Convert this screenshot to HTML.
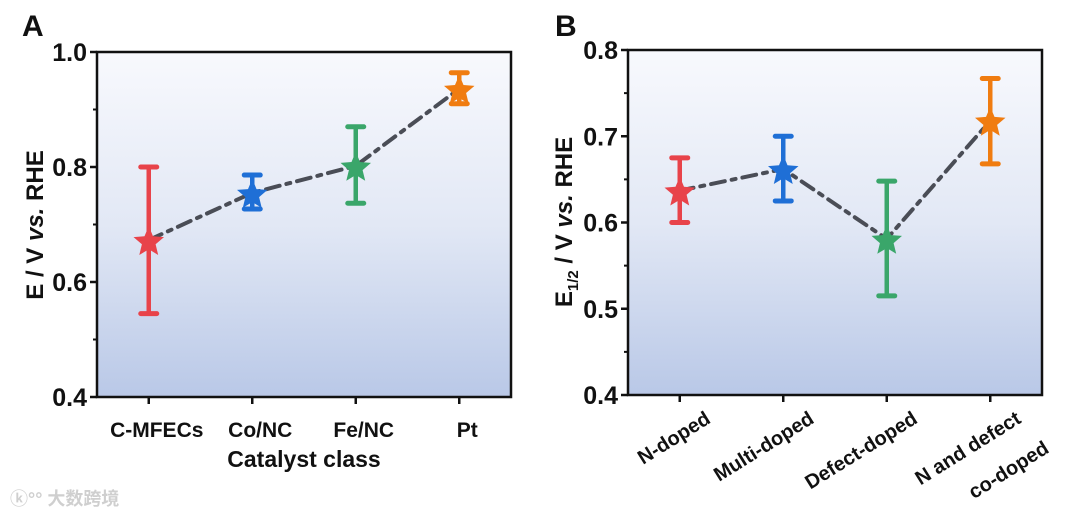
<!DOCTYPE html>
<html><head><meta charset="utf-8"><style>
html,body{margin:0;padding:0;background:#fff;}
svg{display:block;font-family:"Liberation Sans",Arial,sans-serif;font-weight:bold;}
</style></head><body>
<svg id="root" width="1080" height="518" viewBox="0 0 1080 518" xmlns="http://www.w3.org/2000/svg">
<defs>
<linearGradient id="bg" x1="0" y1="0" x2="0" y2="1">
<stop offset="0" stop-color="#f8f9fd"/><stop offset="0.5" stop-color="#e2e8f5"/><stop offset="1" stop-color="#b9c8e7"/>
</linearGradient>
</defs>
<g id="wm"><text x="10" y="505" font-size="18" fill="#cfcfcf" font-family="'Liberation Sans','Noto Sans CJK SC',sans-serif">ⓚ°° 大数跨境</text></g>
</svg>
<script>
const catsA = ["C-MFECs","Co/NC","Fe/NC","Pt"];
const valsA = [0.673,0.755,0.802,0.936];
const hiA = [0.800,0.786,0.870,0.964];
const loA = [0.545,0.727,0.737,0.910];
const ticksA = [0.4,0.6,0.8,1.0];
const catsB = ["N-doped","Multi-doped","Defect-doped","N and defect|co-doped"];
const valsB = [0.637,0.662,0.581,0.718];
const hiB = [0.675,0.700,0.648,0.767];
const loB = [0.600,0.625,0.515,0.668];
const ticksB = [0.4,0.5,0.6,0.7,0.8];
const colors = ["#e8434a","#1f6fd6","#3aa66a","#f07c10"];
const NS="http://www.w3.org/2000/svg";
const root=document.getElementById('root');
function mk(tag,attrs,parent){const e=document.createElementNS(NS,tag);for(const k in attrs)e.setAttribute(k,attrs[k]);(parent||root).appendChild(e);return e;}
function star(cx,cy,R){const r=R*0.45;let p=[];for(let i=0;i<10;i++){const a=-Math.PI/2+i*Math.PI/5;const rr=i%2?r:R;p.push((cx+rr*Math.cos(a)).toFixed(1)+","+(cy+rr*Math.sin(a)).toFixed(1));}return p.join(" ");}
function panel(o){
  const g=mk('g',{});
  
  
  const y=v=>o.y0-(o.y0-o.y1)*(v-o.vmin)/(o.vmax-o.vmin);
  const step=(o.x1-o.x0)/4;
  const x=i=>o.x0+step*(i+0.5);
  const bg=mk('rect',{x:o.x0,y:o.y1,width:o.x1-o.x0,height:o.y0-o.y1,fill:'url(#bg)'},g);
  
  
  for(let i=0;i<o.ticks.length;i++){const t=o.ticks[i];const yy=y(t);
    mk('line',{x1:o.x0-7,x2:o.x0,y1:yy,y2:yy,stroke:'#111','stroke-width':2.5},g);
    const tl=mk('text',{x:o.x0-10,y:yy+9,'font-size':25,'text-anchor':'end',fill:'#111'},g);tl.textContent=t.toFixed(1);
    
    
    if(i<o.ticks.length-1){const m=y((t+o.ticks[i+1])/2);mk('line',{x1:o.x0-4,x2:o.x0,y1:m,y2:m,stroke:'#111','stroke-width':2},g);}
  }
  for(let i=0;i<4;i++){mk('line',{x1:x(i),x2:x(i),y1:o.y0,y2:o.y0+7,stroke:'#111','stroke-width':2.5},g);
    const parts=o.cats[i].split('|');
    if(o.rot){
      const tl=mk('text',{'font-size':20,fill:'#111','text-anchor':'end',transform:`translate(${x(i)+32},${o.y0+27}) rotate(-32)`},g);
      
      
      parts.forEach((p,k)=>{const ts=mk('tspan',{x:k*8,dy:k?40:0},tl);ts.textContent=p;});
    } else {
      const tl=mk('text',{x:x(i)+8,y:o.y0+40,'font-size':21,'text-anchor':'middle',fill:'#111'},g);tl.textContent=parts[0];
      
      
    }
  }
  const pts=o.vals.map((v,i)=>x(i)+","+y(v)).join(" ");
  const ln=mk('polyline',{points:pts,fill:'none',stroke:'#4a4d56','stroke-width':4,'stroke-dasharray':'14 7 4 7','stroke-linecap':'round'},g);
  
  
  for(let i=0;i<4;i++){
    const c=colors[i];
    const eb=mk('g',{},g);
    
    
    mk('line',{x1:x(i),x2:x(i),y1:y(o.hi[i]),y2:y(o.lo[i]),stroke:c,'stroke-width':4.5},eb);
    mk('line',{x1:x(i)-8,x2:x(i)+8,y1:y(o.hi[i]),y2:y(o.hi[i]),stroke:c,'stroke-width':5,'stroke-linecap':'round'},eb);
    mk('line',{x1:x(i)-8,x2:x(i)+8,y1:y(o.lo[i]),y2:y(o.lo[i]),stroke:c,'stroke-width':5,'stroke-linecap':'round'},eb);
    const s=mk('polygon',{points:star(x(i),y(o.vals[i])+2,16),fill:c},g);
    
    
  }
  mk('rect',{x:o.x0,y:o.y1,width:o.x1-o.x0,height:o.y0-o.y1,fill:'none',stroke:'#111','stroke-width':2.5},g);
  const pl=mk('text',{x:o.lx,y:36,'font-size':30,fill:'#111'},g);pl.textContent=o.letter;
  
  
  return {g,y,x};
}
const A=panel({name:'panel-a',x0:97,x1:511,y0:397,y1:52,vmin:0.4,vmax:1.0,ticks:ticksA,cats:catsA,vals:valsA,hi:hiA,lo:loA,letter:'A',lx:22,rot:false});
const tA=mk('text',{'font-size':24,fill:'#111',transform:'translate(43,225) rotate(-90)','text-anchor':'middle'},A.g);


tA.innerHTML='E / V <tspan font-style="italic">vs.</tspan> RHE';
const xA=mk('text',{x:304,y:467,'font-size':23,fill:'#111','text-anchor':'middle'},A.g);xA.textContent='Catalyst class';


const B=panel({name:'panel-b',x0:628,x1:1042,y0:395,y1:50,vmin:0.4,vmax:0.8,ticks:ticksB,cats:catsB,vals:valsB,hi:hiB,lo:loB,letter:'B',lx:555,rot:true});
const tB=mk('text',{'font-size':24,fill:'#111',transform:'translate(572,222) rotate(-90)','text-anchor':'middle'},B.g);


tB.innerHTML='E<tspan font-size="15" dy="6">1/2</tspan><tspan dy="-6"> / V </tspan><tspan font-style="italic">vs.</tspan> RHE';
</script>
</body></html>
